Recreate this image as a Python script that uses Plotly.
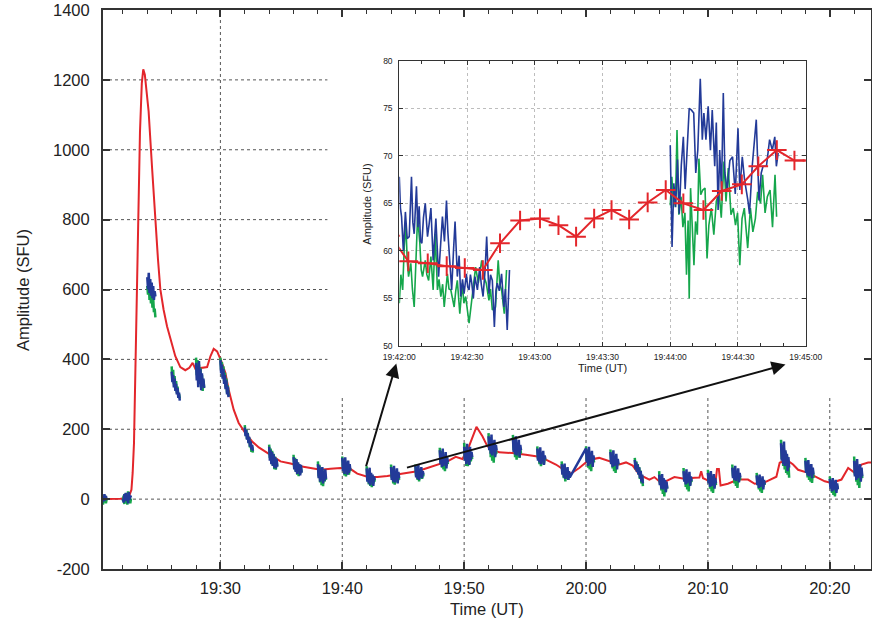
import plotly.graph_objects as go
import pandas as pd

# ---------------- data ----------------
# main red curve: minutes after 19:00, amplitude (SFU)
red_min = [20.0, 21.0, 21.8, 22.3, 22.5, 22.7, 22.8, 22.91, 23.02, 23.12, 23.25, 23.4, 23.55, 23.67,
           23.8, 23.95, 24.11, 24.39, 24.66, 24.88, 25.07, 25.34, 25.62, 25.97, 26.30, 26.71, 27.12,
           27.45, 27.72, 27.95, 28.36, 28.91, 29.18, 29.45, 29.73, 30.08, 30.41, 30.68, 31.09, 31.50,
           32.05, 32.60, 33.15, 33.6, 34.11, 34.93, 35.75, 36.57, 37.40, 38.22, 39.04, 39.86, 40.68,
           41.23, 42.05, 42.88, 43.70, 44.52, 45.34, 46.16, 46.98, 47.81, 48.63, 49.31, 49.86, 50.40,
           51.01, 51.50, 51.91, 52.87, 53.97, 55.06, 55.88, 56.71, 57.53, 58.35, 58.76, 59.44, 60.26,
           61.08, 61.91, 62.73, 63.28, 63.83, 64.38, 65.20, 65.61, 66.2, 67.25, 68.07, 68.90, 69.3,
           69.45, 69.6, 69.86, 70.41, 70.6, 70.75, 70.9, 71.04, 71.64, 72.47, 73.29, 73.84, 74.66,
           75.21, 75.62, 75.89, 76.44, 76.99, 77.40, 78.22, 79.04, 79.59, 80.14, 80.96, 81.51, 82.05,
           82.60, 83.15, 83.7]
red_sfu = [0, 0, 1, 3, 8, 27, 75, 161, 351, 560, 800, 1050, 1190, 1230,
           1215, 1170, 1110, 950, 790, 685, 601, 542, 495, 447, 409, 378, 369,
           376, 390, 373, 376, 378, 409, 430, 423, 394, 361, 313, 256, 218,
           189, 165, 148, 138, 127, 108, 102, 94, 89, 84, 87, 89, 86,
           73, 64, 63, 66, 70, 75, 80, 89, 99, 108, 121, 115, 151,
           207, 180, 151, 134, 132, 127, 123, 113, 99, 80, 73, 89, 113,
           118, 108, 99, 105, 96, 70, 56, 63, 45, 63, 58, 61, 62,
           80, 60, 56, 41, 42, 86, 86, 39, 44, 56, 56, 44, 48,
           56, 64, 104, 113, 99, 84, 75, 61, 51, 46, 56, 89, 75,
           99, 105, 104]

# observation bursts (each lasts 40 s, starting at an even minute after 19:00)
seg_start_min = [20, 22, 24, 26, 28, 30, 32, 34, 36, 38, 40, 42, 44, 46, 48, 50, 52, 54, 56,
                 58, 60, 62, 64, 66, 68, 70, 72, 74, 76, 78, 80, 82]
seg_blue = [
    [5, -8, 12, -5, 10, -10, 8, -6, 14, -4, 9, -2],
    [2, -10, 14, -6, 18, -4, 12, -12, 20, -2, 10, 4],
    [635, 600, 648, 590, 630, 582, 620, 575, 610, 570, 595, 580],
    [365, 335, 355, 320, 345, 310, 330, 300, 318, 290, 305, 282],
    [390, 340, 380, 320, 395, 330, 372, 312, 360, 325, 345, 318],
    [398, 360, 385, 345, 372, 330, 355, 315, 340, 300, 322, 292],
    [205, 180, 198, 170, 188, 160, 178, 150, 165, 142, 155, 138],
    [150, 110, 140, 100, 135, 95, 128, 90, 120, 88, 115, 92],
    [120, 85, 110, 78, 115, 72, 105, 80, 100, 68, 98, 75],
    [100, 60, 95, 50, 88, 55, 92, 45, 80, 52, 85, 58],
    [118, 80, 112, 72, 120, 78, 105, 70, 110, 75, 100, 82],
    [88, 50, 80, 45, 90, 40, 75, 48, 70, 38, 65, 55],
    [92, 55, 85, 50, 95, 48, 80, 58, 88, 45, 78, 60],
    [95, 62, 90, 58, 98, 55, 85, 65, 92, 60, 80, 70],
    [140, 100, 132, 92, 145, 95, 125, 100, 135, 88, 120, 105],
    [150, 110, 145, 100, 158, 105, 140, 98, 150, 112, 135, 120],
    [180, 140, 175, 130, 185, 125, 165, 135, 170, 120, 155, 140],
    [175, 135, 168, 128, 180, 125, 160, 138, 170, 120, 155, 140],
    [145, 110, 140, 105, 148, 100, 132, 112, 138, 98, 125, 115],
    [100, 70, 95, 62, 102, 58, 88, 66, 92, 55, 80, 62],
    [145, 105, 140, 95, 150, 100, 130, 110, 138, 92, 125, 112],
    [135, 100, 128, 92, 140, 95, 122, 98, 130, 85, 115, 100],
    [112, 85, 105, 78, 98, 70, 90, 60, 80, 50, 70, 45],
    [70, 40, 65, 30, 72, 28, 60, 35, 55, 20, 50, 30],
    [80, 50, 75, 42, 85, 45, 70, 50, 78, 38, 65, 52],
    [75, 45, 70, 35, 80, 38, 65, 42, 72, 30, 60, 45],
    [90, 60, 85, 55, 95, 52, 80, 60, 88, 48, 75, 62],
    [68, 40, 62, 32, 70, 35, 58, 40, 65, 28, 55, 42],
    [160, 110, 150, 100, 165, 95, 140, 105, 130, 80, 120, 90],
    [110, 75, 105, 68, 112, 65, 98, 72, 100, 60, 90, 70],
    [58, 30, 52, 22, 60, 25, 48, 30, 55, 18, 45, 28],
    [110, 65, 105, 55, 115, 60, 95, 70, 100, 50, 90, 65],
]
seg_green = [
    [-10, 6, -14, 4, -12, 8, -16, 2, -8, 10, -12, 0],
    [-6, 10, -14, 16, -10, 8, -16, 22, -8, 6, -12, 2],
    [610, 585, 625, 570, 600, 560, 590, 548, 575, 535, 545, 520],
    [380, 345, 370, 330, 352, 318, 338, 305, 322, 295, 300, 288],
    [405, 355, 398, 340, 385, 330, 375, 318, 355, 310, 340, 320],
    [405, 370, 392, 350, 380, 338, 362, 320, 345, 305, 325, 295],
    [212, 185, 200, 172, 190, 162, 175, 148, 160, 135, 150, 133],
    [156, 118, 145, 105, 138, 96, 130, 86, 122, 84, 112, 95],
    [127, 90, 118, 80, 110, 70, 104, 66, 96, 72, 90, 78],
    [108, 65, 98, 48, 90, 40, 86, 37, 78, 50, 70, 55],
    [122, 85, 115, 68, 110, 65, 104, 72, 96, 70, 92, 80],
    [94, 55, 85, 42, 78, 38, 70, 34, 66, 45, 60, 50],
    [99, 60, 90, 45, 85, 41, 80, 50, 75, 48, 70, 55],
    [99, 66, 92, 55, 88, 51, 84, 60, 78, 58, 75, 65],
    [147, 105, 138, 90, 130, 85, 122, 80, 118, 95, 110, 100],
    [161, 115, 150, 95, 140, 94, 135, 100, 128, 108, 125, 115],
    [189, 145, 178, 120, 165, 110, 160, 104, 150, 125, 140, 130],
    [184, 140, 172, 120, 165, 113, 158, 125, 150, 118, 145, 130],
    [151, 115, 142, 100, 135, 94, 130, 105, 122, 100, 118, 110],
    [108, 75, 98, 60, 90, 51, 85, 58, 78, 55, 72, 65],
    [151, 110, 142, 90, 135, 85, 128, 80, 120, 100, 115, 105],
    [142, 105, 132, 88, 125, 80, 118, 75, 110, 95, 105, 98],
    [118, 90, 108, 80, 100, 72, 92, 58, 82, 45, 65, 37],
    [80, 45, 68, 25, 60, 15, 55, 8, 48, 20, 45, 30],
    [89, 55, 78, 35, 72, 28, 68, 22, 60, 40, 58, 48],
    [84, 48, 75, 30, 68, 22, 62, 18, 58, 35, 52, 40],
    [99, 65, 88, 45, 80, 38, 76, 32, 70, 50, 66, 55],
    [75, 45, 65, 28, 60, 22, 55, 18, 50, 35, 48, 40],
    [170, 115, 155, 95, 145, 85, 135, 75, 125, 70, 110, 61],
    [118, 80, 108, 62, 100, 55, 95, 50, 88, 46, 82, 60],
    [65, 35, 55, 18, 50, 12, 45, 8, 42, 25, 38, 30],
    [122, 70, 110, 50, 100, 40, 95, 32, 88, 55, 80, 60],
]
blue_joined_after = [58]   # blue trace not interrupted between these bursts

main_yticks = [-200, 0, 200, 400, 600, 800, 1000, 1200, 1400]
main_ytext = ["-200", "0", "200", "400", "600", "800", "1000", "1200", "1400"]
main_xgrid_min = [30, 40, 50, 60, 70, 80]

# inset: seconds after 19:42:00
inset_red_s = [-4, 4, 12.6, 21, 29, 37, 44.6, 53.5, 62.3, 70.5, 78.3, 86.3, 94, 101.8, 110, 118,
               125.8, 134.7, 142.8, 151.7, 159, 167.2, 175, 183]
inset_red_v = [61.6, 58.9, 58.7, 58.4, 58.2, 58.0, 60.8, 63.2, 63.4, 62.7, 61.5, 63.4, 64.3, 63.3,
               65.1, 66.4, 65.0, 64.3, 66.3, 67.0, 68.9, 70.6, 69.5, 69.5]

inset_blue_s = [0, 0.5, 1.0, 1.8, 2.7, 3.5, 4.4, 5.4, 6.0, 6.6, 7.6, 8.2, 8.8, 9.4, 10.0, 10.7, 11.5,
                12.5, 13.2, 14.0, 15.0, 15.6, 16.2, 17.4, 18.2, 19.1, 20.0, 20.9, 21.5, 22.1, 23.2,
                24.0, 24.7, 25.7, 26.5, 27.2, 28.0, 28.7, 29.7, 30.3, 30.9, 31.5, 32.1, 32.8, 33.5,
                34.6, 35.6, 36.3, 37.1, 38.0, 38.7, 39.7, 40.4, 41.2, 42.1, 42.8, 43.4, 44.3, 45.3,
                46.3, 47.0, 47.8, 48.8,
                None,
                120, 120.8, 121.6, 122.4, 123.2, 124.0, 124.9, 125.8, 126.6, 127.4, 128.4, 129.4,
                130.4, 131.3, 132.2, 133.3, 134.2, 134.9, 135.8, 136.8, 137.8, 138.6, 139.7, 140.4,
                141.2, 141.9, 142.7, 143.5, 144.2, 145.2, 146.4, 147.6, 148.8, 150.0, 150.8, 151.9,
                152.9, 154.4, 155.1, 156.3, 158.1, 159.3, 160.3, 161.1, 162.6, 164.0, 165.2, 166.3,
                167.0, 167.8]
inset_blue_v = [67.8, 64.5, 63.6, 60.0, 64.1, 61.3, 61.5, 67.8, 63.0, 61.8, 66.8, 62.5, 64.7, 61.0,
                60.8, 63.5, 65.0, 61.5, 62.8, 64.5, 59.0, 61.5, 63.4, 57.3, 60.5, 63.6, 61.0, 65.3,
                62.0, 60.1, 55.9, 60.0, 63.1, 57.3, 59.5, 55.2, 57.0, 55.5, 57.6, 56.2, 55.9, 57.5,
                56.6, 55.0, 57.3, 55.9, 58.3, 56.5, 55.2, 58.0, 61.5, 55.5, 57.5, 56.9, 52.0, 55.8,
                56.6, 55.8, 57.6, 54.1, 56.0, 51.7, 58.0,
                None,
                71.1, 60.4, 67.1, 64.6, 69.6, 63.9, 69.0, 72.0, 66.5, 70.5, 75.0, 74.8, 74.5, 68.2,
                70.6, 78.1, 71.7, 74.5, 71.7, 75.2, 70.6, 74.8, 68.9, 73.5, 64.3, 70.6, 66.4, 76.6,
                68.2, 66.4, 69.5, 69.9, 66.0, 72.9, 66.4, 69.9, 67.5, 65.3, 63.9, 68.9, 73.8, 65.3,
                68.2, 68.9, 68.9, 71.7, 70.6, 72.0, 68.9, 70.3]

inset_green_s = [0, 0.7, 1.5, 2.2, 2.9, 3.5, 4.1, 5.1, 5.8, 6.6, 7.3, 8.1, 9.1, 9.7, 10.3, 11.5,
                 12.2, 13.0, 14.0, 15.0, 15.9, 16.9, 17.6, 18.4, 19.2, 19.9, 21.3, 22.0, 22.8, 24.3,
                 25.0, 25.7, 26.8, 27.9, 28.6, 29.4, 30.9, 31.7, 32.4, 33.8, 35.0, 35.8, 36.5, 37.5,
                 38.5, 39.7, 40.4, 41.2, 42.6, 43.8, 44.5, 45.3, 46.5, 47.5,
                 None,
                 120, 120.7, 121.5, 122.4, 123.0, 123.8, 124.8, 125.6, 126.5, 127.2, 127.9, 128.4,
                 129.0, 129.7, 130.5, 131.2, 132.0, 132.7, 133.5, 134.4, 135.4, 136.3, 137.1, 138.2,
                 139.3, 140.4, 141.6, 142.6, 143.8, 144.7, 145.7, 146.9, 147.9, 148.9, 149.8, 150.8,
                 151.8, 152.8, 154.3, 155.5, 156.6, 157.7, 158.7, 160.0, 160.9, 162.0, 163.0, 164.2,
                 165.3, 166.4, 167.1]
inset_green_v = [54.5, 57.5, 55.9, 60.5, 62.9, 59.0, 57.3, 58.7, 56.0, 54.1, 58.5, 63.6, 60.8, 58.0,
                 57.3, 59.0, 57.5, 56.9, 59.4, 55.9, 61.8, 55.9, 57.0, 55.2, 56.5, 54.1, 57.6, 56.0,
                 55.9, 54.1, 55.8, 56.9, 53.4, 56.6, 54.5, 55.2, 52.4, 54.0, 55.5, 58.3, 56.6, 58.0,
                 59.0, 57.3, 56.6, 54.8, 56.0, 53.8, 54.1, 59.0, 56.5, 55.9, 53.4, 58.0,
                 None,
                 64.8, 67.8, 64.6, 66.0, 72.7, 63.8, 65.7, 62.5, 64.0, 57.5, 63.2, 55.0, 66.6, 62.7,
                 58.5, 63.1, 61.7, 69.7, 65.9, 66.4, 66.6, 59.2, 62.7, 64.5, 61.7, 65.2, 66.2, 63.5,
                 69.4, 65.2, 68.7, 63.8, 64.5, 62.7, 64.0, 58.5, 63.4, 64.5, 60.3, 64.5, 62.0, 63.4,
                 66.2, 65.0, 68.0, 64.0, 65.7, 66.4, 62.5, 68.0, 63.6]

# ---------------- helpers ----------------
BASE = pd.Timestamp("2000-01-01 19:00:00")
INSET0 = pd.Timestamp("2000-01-01 19:42:00")


def at_min(m):
    return BASE + pd.Timedelta(minutes=m)


def at_sec(s):
    return None if s is None else INSET0 + pd.Timedelta(seconds=s)


RED = "#e3262b"
BLUE = "#233a98"
GREEN = "#15a64b"
AX = "#333333"
FONT = "Liberation Sans, Arial, Helvetica, sans-serif"

x_start = pd.Timestamp("2000-01-01 19:20:22")
x_end = pd.Timestamp("2000-01-01 20:23:23")

# build burst traces
burst_dur = 40 / 60.0
g_x, g_y, b_x, b_y = [], [], [], []
for s0, bv, gv in zip(seg_start_min, seg_blue, seg_green):
    n = len(bv)
    ts = [at_min(s0 + burst_dur * i / (n - 1)) for i in range(n)]
    g_x += ts + [None]
    g_y += gv + [None]
    b_x += ts
    b_y += bv
    if s0 not in blue_joined_after:
        b_x.append(None)
        b_y.append(None)

fig = go.Figure()
fig.add_trace(go.Scatter(x=[at_min(m) for m in red_min], y=red_sfu, mode="lines",
                         line=dict(color=RED, width=2), hoverinfo="skip"))
fig.add_trace(go.Scatter(x=g_x, y=g_y, mode="lines", line=dict(color=GREEN, width=2.5),
                         connectgaps=False, hoverinfo="skip"))
fig.add_trace(go.Scatter(x=b_x, y=b_y, mode="lines", line=dict(color=BLUE, width=2.5),
                         connectgaps=False, hoverinfo="skip"))

# inset traces
fig.add_trace(go.Scatter(x=[at_sec(s) for s in inset_green_s], y=inset_green_v, mode="lines",
                         line=dict(color=GREEN, width=1.6), xaxis="x2", yaxis="y2",
                         connectgaps=False, hoverinfo="skip"))
fig.add_trace(go.Scatter(x=[at_sec(s) for s in inset_blue_s], y=inset_blue_v, mode="lines",
                         line=dict(color=BLUE, width=1.6), xaxis="x2", yaxis="y2",
                         connectgaps=False, hoverinfo="skip"))
fig.add_trace(go.Scatter(x=[at_sec(s) for s in inset_red_s], y=inset_red_v, mode="lines+markers",
                         line=dict(color=RED, width=2),
                         marker=dict(symbol="cross-thin", size=14, color=RED,
                                     line=dict(color=RED, width=2)),
                         xaxis="x2", yaxis="y2", hoverinfo="skip"))

# main gridlines (stop where the inset sits)
cut_t = at_min(38.78)
cut_v = 290
shapes = []
for yv in main_yticks[1:-1]:
    x1 = cut_t if yv >= 400 else x_end
    shapes.append(dict(type="line", xref="x", yref="y", x0=x_start, x1=x1, y0=yv, y1=yv,
                       line=dict(color="#555555", width=1, dash="dot"), layer="below"))
for m in main_xgrid_min:
    t = at_min(m)
    y1 = cut_v if t >= cut_t else 1400
    shapes.append(dict(type="line", xref="x", yref="y", x0=t, x1=t, y0=-200, y1=y1,
                       line=dict(color="#555555", width=1, dash="dot"), layer="below"))

annotations = [
    dict(text="Amplitude (SFU)", xref="paper", yref="paper", x=-0.1042, y=0.499,
         textangle=-90, showarrow=False, xanchor="center", yanchor="middle",
         font=dict(size=16.5, family=FONT, color="#222")),
    dict(text="Time (UT)", xref="paper", yref="paper", x=0.5, y=-0.0716,
         showarrow=False, xanchor="center", yanchor="middle",
         font=dict(size=16.5, family=FONT, color="#222")),
    dict(text="Amplitude (SFU)", xref="paper", yref="paper", x=0.3434, y=0.653,
         textangle=-90, showarrow=False, xanchor="center", yanchor="middle",
         font=dict(size=11, family=FONT, color="#222")),
    dict(text="Time (UT)", xref="paper", yref="paper", x=0.651, y=0.359,
         showarrow=False, xanchor="center", yanchor="middle",
         font=dict(size=11, family=FONT, color="#222")),
    # arrows from the main curve to the inset
    dict(text="", x=pd.Timestamp("2000-01-01 19:44:26"), y=388, xref="x", yref="y",
         ax=pd.Timestamp("2000-01-01 19:41:55"), ay=90, axref="x", ayref="y",
         showarrow=True, arrowhead=2, arrowsize=1.4, arrowwidth=2, arrowcolor="#111"),
    dict(text="", x=pd.Timestamp("2000-01-01 20:16:22"), y=385, xref="x", yref="y",
         ax=pd.Timestamp("2000-01-01 19:45:11"), ay=89, axref="x", ayref="y",
         showarrow=True, arrowhead=2, arrowsize=1.4, arrowwidth=2, arrowcolor="#111"),
]

fig.update_layout(
    width=872, height=628,
    margin=dict(l=103, r=1, t=10, b=59, autoexpand=False),
    paper_bgcolor="white", plot_bgcolor="white",
    showlegend=False,
    font=dict(family=FONT, color="#222"),
    shapes=shapes,
    annotations=annotations,
    xaxis=dict(type="date", range=[x_start, x_end], tickformat="%H:%M",
               tick0="2000-01-01 19:00:00", dtick=600000, automargin=False,
               ticks="inside", ticklen=7, tickwidth=1.5, tickcolor=AX,
               showline=True, linecolor=AX, linewidth=2, mirror="ticks",
               showgrid=False, zeroline=False,
               minor=dict(dtick=120000, ticks="inside", ticklen=4, tickwidth=1.2,
                          tickcolor=AX, showgrid=False),
               tickfont=dict(size=16.5, family=FONT, color="#222"),
               ticklabelstandoff=3),
    yaxis=dict(range=[-200, 1400], tickvals=main_yticks, ticktext=main_ytext, automargin=False,
               ticks="inside", ticklen=7, tickwidth=1.5, tickcolor=AX,
               showline=True, linecolor=AX, linewidth=2, mirror="ticks",
               showgrid=False, zeroline=False,
               tickfont=dict(size=16.5, family=FONT, color="#222"),
               ticklabelstandoff=8),
    xaxis2=dict(domain=[0.3858, 0.9150], anchor="y2", type="date", automargin=False,
                range=[INSET0, INSET0 + pd.Timedelta(seconds=180)],
                tickformat="%H:%M:%S", tick0="2000-01-01 19:42:00", dtick=30000,
                ticks="inside", ticklen=4, tickwidth=1, tickcolor=AX,
                showline=True, linecolor=AX, linewidth=1, mirror="ticks",
                showgrid=True, gridcolor="#bdbdbd", griddash="dot", gridwidth=1,
                zeroline=False,
                minor=dict(dtick=10000, ticks="inside", ticklen=3, tickcolor=AX, showgrid=False),
                tickfont=dict(size=8.5, family=FONT, color="#222"),
                ticklabelstandoff=3),
    yaxis2=dict(domain=[0.3989, 0.9093], anchor="x2", range=[50, 80], dtick=5, automargin=False,
                ticks="inside", ticklen=4, tickwidth=1, tickcolor=AX,
                showline=True, linecolor=AX, linewidth=1, mirror="ticks",
                showgrid=True, gridcolor="#bdbdbd", griddash="dot", gridwidth=1,
                zeroline=False,
                tickfont=dict(size=8.5, family=FONT, color="#222"),
                ticklabelstandoff=4),
)

fig.write_html("out.html")
